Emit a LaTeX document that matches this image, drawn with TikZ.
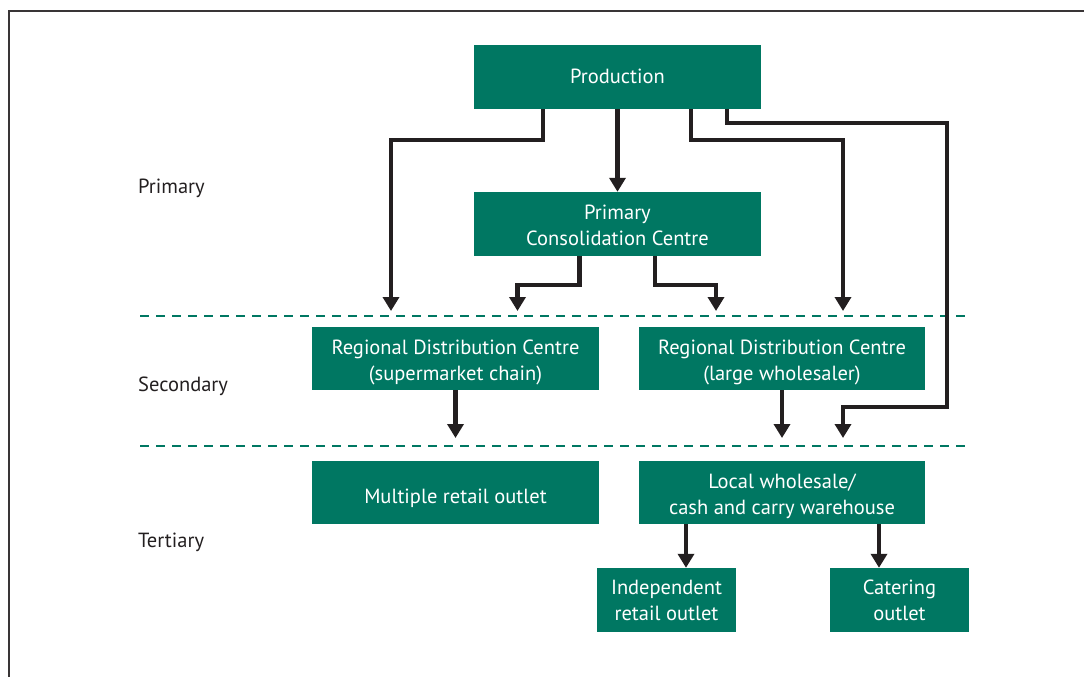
\documentclass[tikz,border=0pt]{standalone}
\usepackage{fontspec}
\setmainfont{PT Sans}
\usetikzlibrary{arrows.meta}
\definecolor{boxgreen}{RGB}{0,119,98}
\definecolor{ink}{RGB}{35,31,32}
\tikzset{
  box/.style={rectangle, fill=boxgreen, text=white, inner sep=0pt, align=center,
    font=\fontsize{20.5}{26}\selectfont},
  tb/.style={text height=#1, text depth=0pt},
  arr/.style={draw=ink, line width=4.5pt, -{Triangle[length=14pt,width=16pt]}},
  tier/.style={anchor=west, text=ink, inner sep=0pt, font=\fontsize{20.5}{26}\selectfont},
  divider/.style={draw=boxgreen, line width=2pt, dash pattern=on 9pt off 7pt},
}
\begin{document}
\begin{tikzpicture}[x=1pt,y=-1pt]
\useasboundingbox (0,0) rectangle (1084,677);
% frame
\draw[ink!90, line width=2pt] (8.5,677) -- (8.5,11.5) -- (1084,11.5);
% dividers
\draw[divider] (140,315.5) -- (966,315.5);
\draw[divider] (140,446) -- (966,446);
% tier labels
\node[tier] (lp) at (138,188) {Primary};
\node[tier] (ls) at (138,386) {Secondary};
\node[tier] (lt) at (138,542) {Tertiary};
% boxes
\node[box, tb=14pt, minimum width=287, minimum height=64] (prod) at (617.5,77) {Production};
\node[box, tb=43pt, minimum width=287, minimum height=64] (pcc) at (617.5,224) {Primary\\Consolidation Centre};
\node[box, tb=43pt, minimum width=287, minimum height=63] (rdcs) at (455.5,358.5) {Regional Distribution Centre\\(supermarket chain)};
\node[box, tb=43pt, minimum width=286, minimum height=63] (rdcw) at (782,358.5) {Regional Distribution Centre\\(large wholesaler)};
\node[box, tb=21pt, minimum width=287, minimum height=63] (mro) at (455.5,492.5) {Multiple retail outlet};
\node[box, tb=43pt, minimum width=286, minimum height=63] (lw) at (782,492.5) {Local wholesale/\\cash and carry warehouse};
\node[box, tb=41pt, minimum width=139, minimum height=64] (iro) at (666.5,600) {Independent\\retail outlet};
\node[box, tb=41pt, minimum width=139, minimum height=64] (cat) at (899.5,600) {Catering\\outlet};
% free ends
\coordinate (a1) at (391,311);
\coordinate (a3) at (843,311);
\coordinate (a4) at (843,438);
\coordinate (a5) at (517.5,311);
\coordinate (a6) at (716,311);
\coordinate (a7) at (455.5,438);
\coordinate (a8) at (782,438);
% connectors
\draw[arr] (prod.south) -- (pcc.north);
\draw[arr] ([xshift=-74.5]prod.south) -- ++(0,31) -| (a1);
\draw[arr] ([xshift=73.5]prod.south) -- ++(0,31) -| (a3);
\draw[arr] ([xshift=109.5]prod.south) -- ++(0,14) -| (947,407) -| (a4);
\draw[arr] ([xshift=-38]pcc.south) -- ++(0,29) -| (a5);
\draw[arr] ([xshift=37.5]pcc.south) -- ++(0,29) -| (a6);
\draw[arr] (rdcs.south) -- (a7);
\draw[arr] (rdcw.south) -- (a8);
\draw[arr] ([xshift=-96]lw.south) -- ([xshift=19.5]iro.north);
\draw[arr] ([xshift=97]lw.south) -- ([xshift=-20.5]cat.north);
\end{tikzpicture}
\end{document}
